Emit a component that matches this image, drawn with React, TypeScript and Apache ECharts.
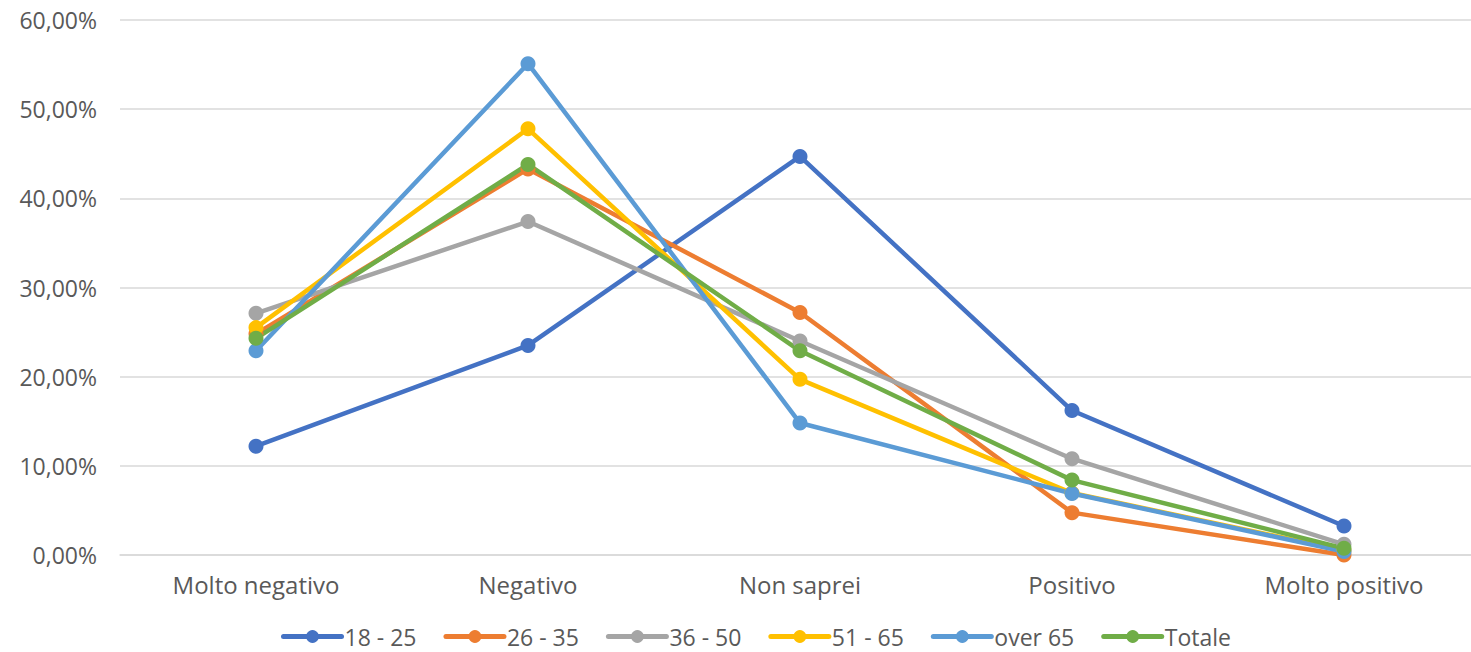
import React, { useEffect, useRef } from "react";
import * as echarts from "echarts";

const categories = ["Molto negativo", "Negativo", "Non saprei", "Positivo", "Molto positivo"];
const seriesNames = ["18 - 25", "26 - 35", "36 - 50", "51 - 65", "over 65", "Totale"];
const s1825 = [12.2, 23.5, 44.7, 16.2, 3.25];
const s2635 = [24.8, 43.3, 27.2, 4.75, 0.0];
const s3650 = [27.1, 37.4, 24.0, 10.8, 1.2];
const s5165 = [25.5, 47.8, 19.7, 6.95, 0.5];
const sOver65 = [22.9, 55.1, 14.8, 6.9, 0.4];
const sTotale = [24.3, 43.8, 22.9, 8.4, 0.75];
const colors = ["#4472C4", "#ED7D31", "#A5A5A5", "#FFC000", "#5B9BD5", "#70AD47"];
const yTicks = { min: 0, max: 60, interval: 10 };

export default function App() {
  const ref = useRef<HTMLDivElement>(null);
  useEffect(() => {
    if (!ref.current) return;
    const chart = echarts.init(ref.current, undefined, { renderer: "svg" });
    const data = [s1825, s2635, s3650, s5165, sOver65, sTotale];
    const font = "'Open Sans', 'Noto Sans', sans-serif";
    const textColor = "#595959";
    chart.setOption({
      animation: false,
      backgroundColor: "#ffffff",
      color: colors,
      textStyle: { fontFamily: font },
      grid: { left: 120, top: 20, width: 1360, height: 535, containLabel: false },
      legend: {
        top: 625,
        left: 281,
        padding: 0,
        itemWidth: 58,
        itemHeight: 16,
        itemGap: 27,
        lineStyle: { width: 5, cap: "round" },
        textStyle: { fontSize: 23, color: textColor, fontFamily: font, padding: [0, 0, 0, -2] },
        data: seriesNames,
      },
      xAxis: {
        type: "category",
        data: categories,
        boundaryGap: true,
        axisLine: { show: true, lineStyle: { color: "#d9d9d9", width: 1.5 } },
        axisTick: { show: false },
        axisLabel: { fontSize: 24, color: textColor, margin: 17, fontFamily: font },
      },
      yAxis: {
        type: "value",
        min: yTicks.min,
        max: yTicks.max,
        interval: yTicks.interval,
        axisLine: { show: false },
        axisTick: { show: false },
        splitLine: { lineStyle: { color: "#d9d9d9", width: 1.5 } },
        axisLabel: {
          fontSize: 23,
          color: textColor,
          margin: 23,
          fontFamily: font,
          formatter: (v: number) => v.toFixed(2).replace(".", ",") + "%",
        },
      },
      series: seriesNames.map((name, i) => ({
        name,
        type: "line",
        data: data[i],
        symbol: "circle",
        symbolSize: 15,
        lineStyle: { width: 4.5, color: colors[i] },
        itemStyle: { color: colors[i] },
      })),
    });
    return () => chart.dispose();
  }, []);
  return (
    <div style={{ position: "absolute", left: 0, top: 0, width: 1471, height: 652, overflow: "hidden" }}>
      <div ref={ref} style={{ width: 1480, height: 652 }} />
    </div>
  );
}
